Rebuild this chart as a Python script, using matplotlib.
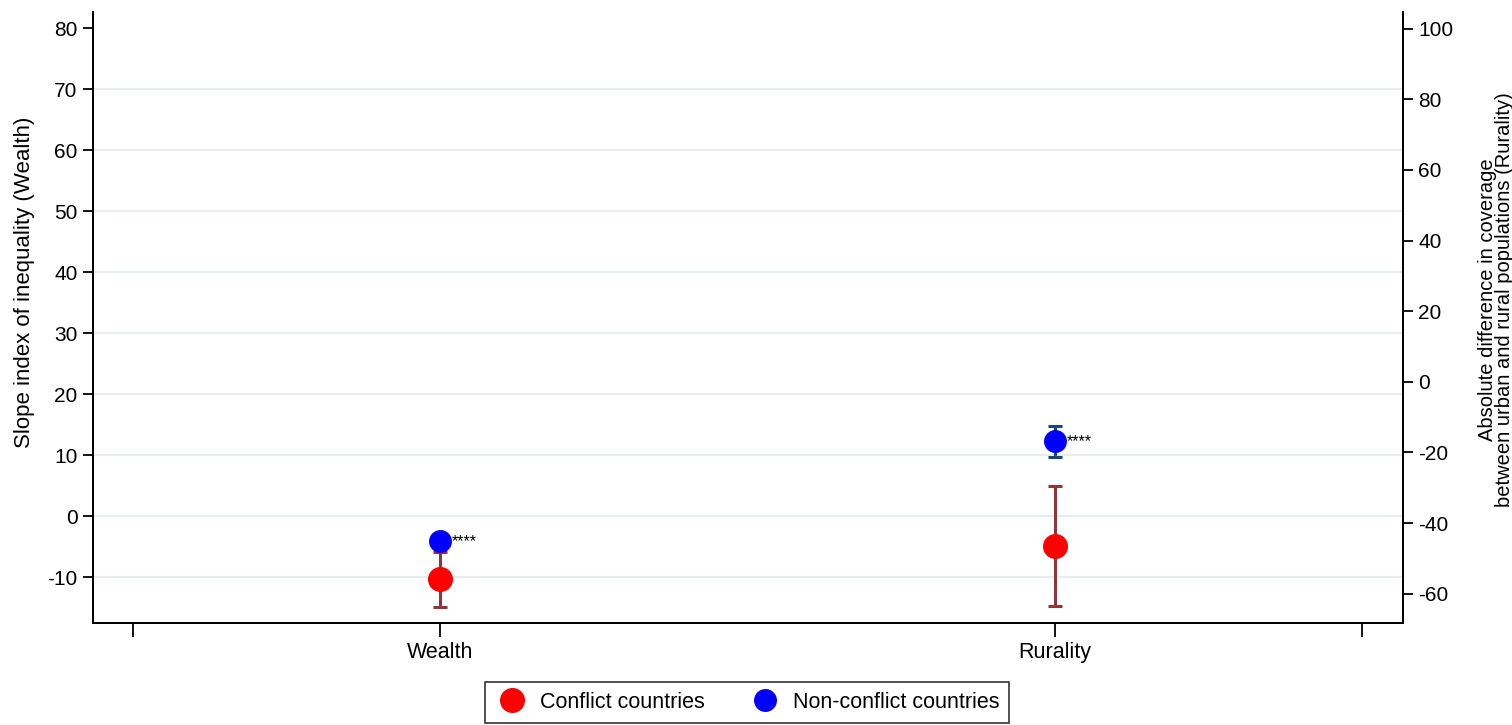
import matplotlib.pyplot as plt
from matplotlib.lines import Line2D

plt.rcParams['font.family'] = ['Liberation Sans', 'DejaVu Sans']
plt.rcParams['axes.unicode_minus'] = False

categories = ['Wealth', 'Rurality']
# point estimates and 95% CI bounds (Wealth on left axis, Rurality on right axis)
conflict_est = [-10.3, -46.4]
conflict_lo = [-14.8, -63.4]
conflict_hi = [-5.8, -29.5]
nonconflict_est = [-4.1, -16.9]
nonconflict_lo = [-4.9, -21.3]
nonconflict_hi = [-3.3, -12.5]
signif = ['****', '****']

left_ticks = [-10, 0, 10, 20, 30, 40, 50, 60, 70, 80]
right_ticks = [-60, -40, -20, 0, 20, 40, 60, 80, 100]

red = '#FF0000'
blue = '#0000FF'
red_bar = '#90353B'
blue_bar = '#1A476F'

fig = plt.figure(figsize=(15.12, 7.25), dpi=100)
ax = fig.add_axes([0.0615, 0.1407, 0.8665, 0.8432])
ax2 = ax.twinx()

xpos = [1, 3]


def draw_group(axis, i):
    axis.errorbar(xpos[i], conflict_est[i],
                  yerr=[[conflict_est[i] - conflict_lo[i]], [conflict_hi[i] - conflict_est[i]]],
                  fmt='o', color=red, ms=17, ecolor=red_bar, elinewidth=2.2,
                  capsize=5, capthick=2.2, zorder=3)
    axis.errorbar(xpos[i], nonconflict_est[i],
                  yerr=[[nonconflict_est[i] - nonconflict_lo[i]], [nonconflict_hi[i] - nonconflict_est[i]]],
                  fmt='o', color=blue, ms=15.5, ecolor=blue_bar, elinewidth=2.2,
                  capsize=5, capthick=2.2, zorder=4)
    axis.annotate(signif[i], xy=(xpos[i], nonconflict_est[i]), xytext=(8.5, 0),
                  textcoords='offset points', ha='left', va='center', fontsize=11.5)


draw_group(ax, 0)
draw_group(ax2, 1)

# left axis
ax.set_ylim(-17.5, 82.7)
ax.set_yticks(left_ticks)
for t in left_ticks[:-1]:
    ax.axhline(t, color='#E6EEF2', lw=1.6, zorder=0)
ax.set_ylabel('Slope index of inequality (Wealth)', fontsize=16)
ax.yaxis.set_label_coords(-0.0445, 0.558)

# right axis
ax2.set_ylim(-68.3, 104.8)
ax2.set_yticks(right_ticks)
ax2.set_ylabel('Absolute difference in coverage\nbetween urban and rural populations (Rurality)',
               fontsize=14.5, linespacing=0.92)
ax2.yaxis.set_label_coords(1.0568, 0.529)

ax.set_xlim(-0.13, 4.133)
ax.set_xticks([0, 1, 3, 4])
ax.set_xticklabels(['', categories[0], categories[1], ''])

for a in (ax, ax2):
    a.spines['top'].set_visible(False)
    for s in ('left', 'right', 'bottom'):
        a.spines[s].set_linewidth(1.3)
    a.tick_params(axis='y', labelsize=15, length=7, width=1.3, pad=4)
ax.tick_params(axis='x', labelsize=15.5, length=10, width=1.3, pad=4)

handles = [
    Line2D([], [], ls='none', marker='o', color=red, ms=17),
    Line2D([], [], ls='none', marker='o', color=blue, ms=15.5),
]
leg = fig.legend(handles, ['Conflict countries', 'Non-conflict countries'],
                 loc='center', bbox_to_anchor=(0.494, 0.031), ncol=2, fontsize=15.5,
                 frameon=True, fancybox=False, edgecolor='black', handletextpad=0.5,
                 columnspacing=2.0, borderpad=0.45, handlelength=1.6)
leg.get_frame().set_linewidth(1.2)

fig.savefig('out.png', dpi=100)
